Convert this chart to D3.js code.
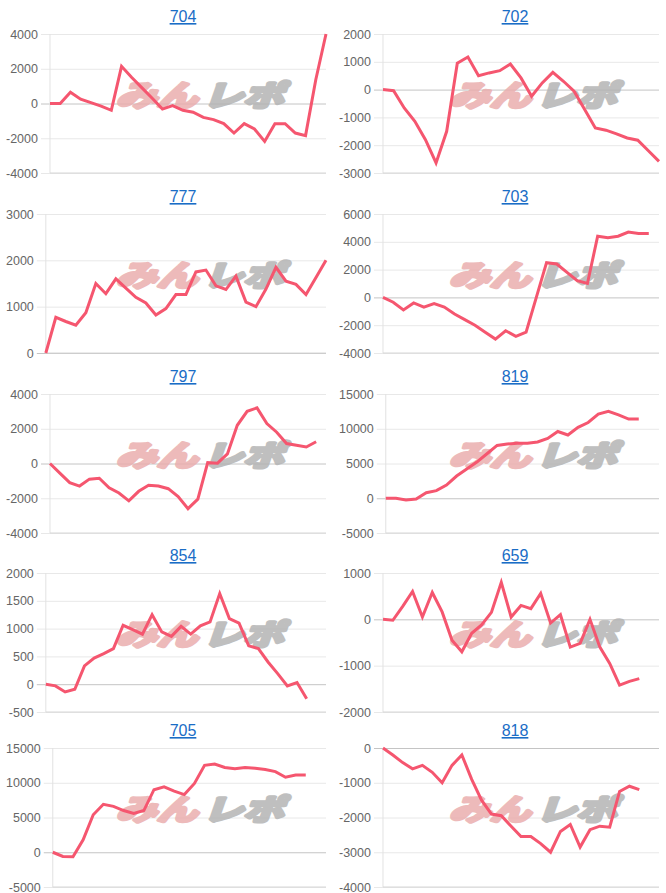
<!DOCTYPE html>
<html><head><meta charset="utf-8">
<script src="https://cdn.jsdelivr.net/npm/d3@7"></script>
<style>body{margin:0;background:#fff}svg{display:block}</style>
</head><body>
<svg id="c" width="666" height="893"></svg>
<script>
const titles = ["704","702","777","703","797","819","854","659","705","818"];
const slotCounts = [28,27,29,28,29,28,30,29,28,29];

const s704 = [0,0,650,250,50,-150,-390,2140,1500,900,300,-320,-120,-390,-500,-800,-930,-1160,-1700,-1160,-1470,-2180,-1160,-1160,-1700,-1850,1370,4000];
const s702 = [0,-40,-660,-1140,-1800,-2640,-1500,950,1170,500,600,680,920,420,-240,240,620,300,-60,-720,-1380,-1460,-1590,-1740,-1820,-2200,-2580];
const s777 = [0,770,680,600,870,1500,1280,1600,1400,1200,1080,820,960,1260,1260,1750,1790,1450,1370,1660,1100,1000,1380,1850,1550,1480,1260,1630,2000];
const s703 = [0,-350,-900,-400,-700,-450,-700,-1200,-1600,-2000,-2500,-3000,-2400,-2800,-2500,0,2500,2400,1800,1200,1000,4400,4300,4400,4700,4600,4600];
const s797 = [0,-550,-1100,-1300,-900,-850,-1400,-1700,-2150,-1600,-1250,-1300,-1450,-1900,-2600,-2050,50,20,550,2200,3000,3200,2300,1800,1150,1050,950,1250];
const s819 = [0,0,-250,-100,800,1100,1900,3200,4200,5200,6400,7600,7800,7900,7900,8100,8600,9600,9100,10200,10900,12100,12500,12000,11400,11400];
const s854 = [0,-30,-140,-90,330,470,550,640,1060,980,900,1250,940,860,1040,900,1050,1120,1630,1180,1100,690,640,400,190,-30,30,-260];
const s659 = [0,-20,280,600,50,580,160,-450,-700,-300,-120,150,800,50,300,230,560,-80,100,-600,-520,0,-600,-950,-1420,-1340,-1280];
const s705 = [0,-600,-650,1800,5400,6900,6600,6000,5600,6000,9000,9400,8800,8300,9900,12500,12700,12200,12000,12200,12100,11900,11600,10800,11100,11100];
const s818 = [0,-200,-420,-600,-500,-700,-1000,-500,-200,-900,-1500,-1900,-1950,-2250,-2550,-2550,-2750,-3000,-2400,-2200,-2850,-2350,-2250,-2280,-1250,-1100,-1200];
const seriesList = [s704,s702,s777,s703,s797,s819,s854,s659,s705,s818];

const ticks704 = [-4000,-2000,0,2000,4000];
const ticks702 = [-3000,-2000,-1000,0,1000,2000];
const ticks777 = [0,1000,2000,3000];
const ticks703 = [-4000,-2000,0,2000,4000,6000];
const ticks797 = [-4000,-2000,0,2000,4000];
const ticks819 = [-5000,0,5000,10000,15000];
const ticks854 = [-500,0,500,1000,1500,2000];
const ticks659 = [-2000,-1000,0,1000];
const ticks705 = [-5000,0,5000,10000,15000];
const ticks818 = [-4000,-3000,-2000,-1000,0];
const tickList = [ticks704,ticks702,ticks777,ticks703,ticks797,ticks819,ticks854,ticks659,ticks705,ticks818];

const svg = d3.select("#c");
svg.append("rect").attr("width",666).attr("height",893).attr("fill","#fff");
const rowTops = [0,180,360,539,714];
const LINE = "#f5566f";
const FONT = "'Liberation Sans', Arial, Helvetica, sans-serif";

titles.forEach((t,i)=>{
  const col = i%2, row = Math.floor(i/2);
  const colLeft = col*333, top = rowTops[row];
  const g = svg.append("g");
  const ticks = tickList[i];
  const meas = g.append("g").attr("font-family",FONT).attr("font-size",12.5);
  let maxW = 0;
  ticks.forEach(v=>{const tt=meas.append("text").text(String(v)); maxW=Math.max(maxW,tt.node().getComputedTextLength()); tt.remove();});
  meas.remove();
  const x0 = colLeft + 18 + maxW, x1 = colLeft + 326;
  const y0 = top + 173, y1 = top + 34;
  const y = d3.scaleLinear().domain(d3.extent(ticks)).range([y0,y1]);
  const x = d3.scalePoint().domain(d3.range(slotCounts[i])).range([x0,x1]);

  g.append("text").attr("x", colLeft + (col?182:183)).attr("y", top+22)
    .attr("text-anchor","middle").attr("font-family",FONT).attr("font-size",16)
    .attr("fill","#1a6dc6").attr("text-decoration","underline").text(t);

  const ax = d3.axisLeft(y).tickValues(ticks).tickSize(-(x1-x0)).tickPadding(12).tickFormat(d=>String(d));
  const ag = g.append("g").attr("transform",`translate(${x0},0)`).call(ax);
  ag.select(".domain").remove();
  ag.selectAll(".tick line").attr("stroke",d=>d===0?"#c4c4c4":"#e8e8e8").attr("x1",-9).attr("x2",x1-x0);
  ag.selectAll(".tick text").attr("fill","#666").attr("font-family",FONT).attr("font-size",12.5);
  g.append("line").attr("x1",x0).attr("x2",x0).attr("y1",y1).attr("y2",y0).attr("stroke","#e2e2e2");
  g.append("line").attr("x1",x0).attr("x2",x1).attr("y1",y0).attr("y2",y0).attr("stroke","#d6d6d6");

  // watermark
  const wm = g.append("g").attr("transform",`translate(${colLeft+200},${top+106}) scale(1.4,1) skewX(-14)`)
    .attr("font-family","'Noto Sans CJK JP', sans-serif").attr("font-weight",700).attr("font-size",29)
    .attr("stroke-linejoin","round").attr("paint-order","stroke");
  wm.append("text").attr("x",-2).attr("text-anchor","end").attr("fill","#eaaeae").attr("stroke","#eaaeae").attr("stroke-width",3.5).attr("opacity",0.85).text("みん");
  wm.append("text").attr("x",2).attr("text-anchor","start").attr("fill","#b4b4b4").attr("stroke","#b4b4b4").attr("stroke-width",3.5).attr("opacity",0.85).text("レポ");

  const line = d3.line().x((d,j)=>x(j)).y(d=>y(d));
  g.append("path").datum(seriesList[i]).attr("d",line).attr("fill","none")
    .attr("stroke",LINE).attr("stroke-width",3).attr("stroke-linejoin","miter");
});
</script>
</body></html>
